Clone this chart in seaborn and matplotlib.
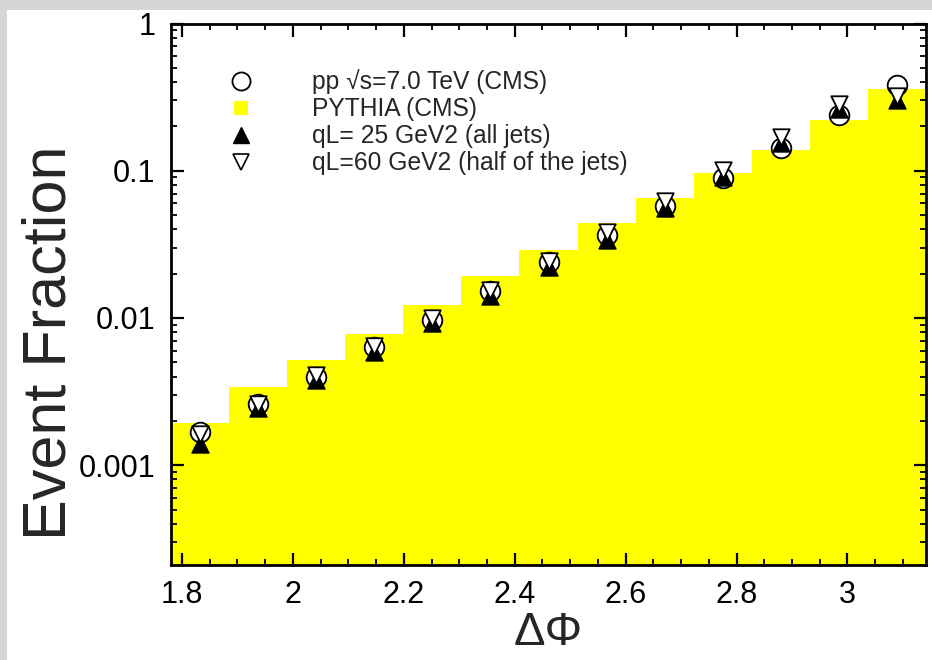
import numpy as np
import pandas as pd
import matplotlib
matplotlib.use("Agg")
import matplotlib.pyplot as plt
import seaborn as sns
from matplotlib.lines import Line2D
from matplotlib.patches import Rectangle
from matplotlib.ticker import FixedLocator, FixedFormatter, MultipleLocator, LogLocator, NullFormatter

# ---- data ----
bin_edges = [1.7802, 1.8850, 1.9897, 2.0944, 2.1991, 2.3038, 2.4086,
             2.5133, 2.6180, 2.7227, 2.8274, 2.9322, 3.0369, 3.1416]
dphi = [1.8326, 1.9373, 2.0420, 2.1468, 2.2515, 2.3562, 2.4609,
        2.5656, 2.6704, 2.7751, 2.8798, 2.9845, 3.0892]
pythia = [0.00195, 0.0034, 0.0052, 0.0078, 0.0123, 0.0193, 0.029,
          0.0443, 0.0655, 0.097, 0.139, 0.222, 0.36]
cms = [0.00168, 0.0026, 0.0040, 0.00635, 0.0097, 0.0153, 0.024,
       0.0367, 0.0578, 0.0896, 0.143, 0.24, 0.385]
ql25 = [0.00140, 0.00244, 0.0038, 0.0059, 0.0092, 0.0141, 0.0222,
        0.034, 0.056, 0.091, 0.155, 0.264, 0.304]
ql60 = [0.00162, 0.0026, 0.0041, 0.0065, 0.0100, 0.0155, 0.0245,
        0.0385, 0.0625, 0.1016, 0.17, 0.286, 0.32]

xticks = [1.8, 2.0, 2.2, 2.4, 2.6, 2.8, 3.0]
xticklabels = ["1.8", "2", "2.2", "2.4", "2.6", "2.8", "3"]
yticks = [0.001, 0.01, 0.1, 1]
yticklabels = ["0.001", "0.01", "0.1", "1"]

labels = ["pp \u221as=7.0 TeV (CMS)", "PYTHIA (CMS)",
          "qL= 25 GeV2 (all jets)", "qL=60 GeV2 (half of the jets)"]

df = pd.DataFrame({"dphi": dphi, "pythia": pythia, "cms": cms,
                   "ql25": ql25, "ql60": ql60})

# ---- style ----
sns.set_theme(style="ticks")
plt.rcParams["font.family"] = ["Liberation Sans", "DejaVu Sans"]
plt.rcParams["axes.axisbelow"] = False

W, H = 932, 660
fig = plt.figure(figsize=(W / 100, H / 100), dpi=100, facecolor="white")
# grey screenshot margins (top and left)
fig.patches.append(Rectangle((0, 1 - 10 / H), 1, 10 / H, transform=fig.transFigure,
                             facecolor="#d6d6d6", edgecolor="none", zorder=-5))
fig.patches.append(Rectangle((0, 0), 7 / W, 1, transform=fig.transFigure,
                             facecolor="#d6d6d6", edgecolor="none", zorder=-5))

left, right, top, bottom = 171, 926, 23.5, 565
ax = fig.add_axes([left / W, (H - bottom) / H, (right - left) / W, (bottom - top) / H])
ax.set_yscale("log")
ax.set_axisbelow(False)

sns.histplot(data=df, x="dphi", weights="pythia", bins=bin_edges, element="step",
             fill=True, color="#ffff00", alpha=1, linewidth=0, ax=ax, zorder=1)

sns.scatterplot(data=df, x="dphi", y="cms", marker="o", s=200, color="white",
                edgecolor="black", linewidth=1.3, ax=ax, zorder=3, legend=False)
sns.scatterplot(data=df, x="dphi", y="ql25", marker="^", s=150, color="black",
                edgecolor="black", linewidth=1.0, ax=ax, zorder=4, legend=False)
sns.scatterplot(data=df, x="dphi", y="ql60", marker="v", s=140, color="white",
                edgecolor="black", linewidth=1.3, ax=ax, zorder=5, legend=False)

ax.set_xlim(bin_edges[0], bin_edges[-1])
ax.set_ylim(2.1e-4, 1)

ax.xaxis.set_major_locator(FixedLocator(xticks))
ax.xaxis.set_major_formatter(FixedFormatter(xticklabels))
ax.xaxis.set_minor_locator(MultipleLocator(0.05))
ax.yaxis.set_major_locator(FixedLocator(yticks))
ax.yaxis.set_major_formatter(FixedFormatter(yticklabels))
ax.yaxis.set_minor_locator(LogLocator(base=10, subs=np.arange(2, 10)))
ax.yaxis.set_minor_formatter(NullFormatter())

ax.tick_params(which="both", direction="in", top=True, right=True, colors="black",
               labelsize=22, zorder=10)
ax.tick_params(which="major", length=9, width=1.6, pad=11)
ax.tick_params(which="minor", length=4.5, width=1.3)
for s in ax.spines.values():
    s.set_linewidth(2.0)
    s.set_color("black")
    s.set_zorder(10)
ax.set_facecolor("white")

ax.set_ylabel("Event Fraction", fontsize=44)
ax.set_xlabel("\u0394\u03a6", fontsize=34)
ax.yaxis.set_label_coords(-0.122, 0.41)
ax.xaxis.set_label_coords(0.5, -0.085)

handles = [
    Line2D([], [], ls="none", marker="o", ms=13, mfc="white", mec="black", mew=1.3),
    Line2D([], [], ls="none", marker="s", ms=9.5, mfc="#ffff00", mec="#ffff00", mew=0),
    Line2D([], [], ls="none", marker="^", ms=12, mfc="black", mec="black", mew=1.0),
    Line2D([], [], ls="none", marker="v", ms=11, mfc="white", mec="black", mew=1.2),
]
ax.legend(handles, labels, loc="upper left", bbox_to_anchor=(0.06, 0.915),
          frameon=False, fontsize=17.7, handlelength=2.0, handletextpad=1.9,
          borderpad=0, borderaxespad=0, labelspacing=0.12)

fig.savefig("out.png", dpi=100, facecolor="white")
